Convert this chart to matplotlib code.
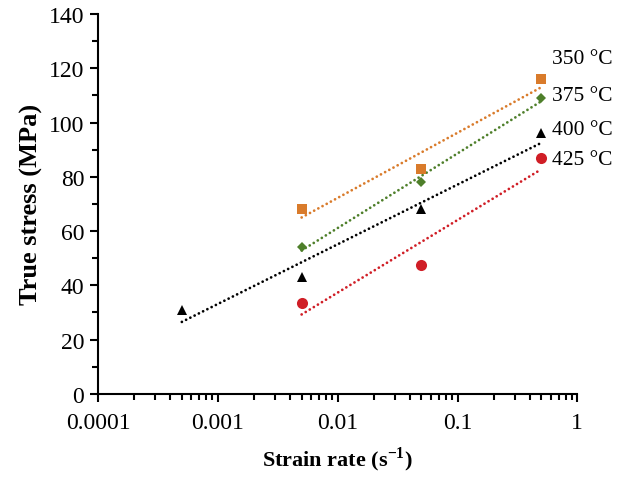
import numpy as np
import matplotlib.pyplot as plt
from matplotlib.ticker import LogLocator, MultipleLocator, FuncFormatter

plt.rcParams['font.family'] = ['Liberation Serif', 'DejaVu Serif']

# data
rate_350 = [0.005, 0.05, 0.5]
stress_350 = [68, 83, 116]
rate_375 = [0.005, 0.05, 0.5]
stress_375 = [54, 78, 109]
rate_400 = [0.0005, 0.005, 0.05, 0.5]
stress_400 = [31, 43, 68, 96]
rate_425 = [0.005, 0.05, 0.5]
stress_425 = [33.5, 47.5, 87]

labels = ['350 \u00b0C', '375 \u00b0C', '400 \u00b0C', '425 \u00b0C']
label_y = [123.5, 110, 97.5, 86.5]

series = [
    (rate_350, stress_350, 's', '#D97B2B', 7),
    (rate_375, stress_375, 'D', '#4E7F2A', 5.5),
    (rate_400, stress_400, '^', '#000000', 7.5),
    (rate_425, stress_425, 'o', '#D01E26', 8),
]

fig = plt.figure(figsize=(6.33, 4.85), dpi=100)
ax = fig.add_axes([0.155, 0.186, 0.757, 0.783])

for (x, y, m, c, ms), lab, ly in zip(series, labels, label_y):
    x = np.array(x)
    y = np.array(y)
    # logarithmic trend line, like the spreadsheet one
    a, b = np.polyfit(np.log(x), y, 1)
    xs = np.array([x.min(), x.max()])
    ax.plot(xs, a * np.log(xs) + b, linestyle=(0, (0.01, 1.7)), color=c,
            linewidth=2.0, dash_capstyle='round')
    ax.plot(x, y, linestyle='none', marker=m, color=c, markersize=ms,
            markeredgewidth=0, zorder=3)
    ax.text(0.62, ly, lab, fontsize=15.5, va='center', ha='left')

ax.set_xscale('log')
ax.set_xlim(0.0001, 1)
ax.set_ylim(0, 140)
ax.xaxis.set_major_locator(LogLocator(base=10, numticks=10))
ax.xaxis.set_minor_locator(LogLocator(base=10, subs=np.arange(2, 10), numticks=10))
ax.xaxis.set_major_formatter(FuncFormatter(lambda v, p: np.format_float_positional(v, trim='-')))
ax.yaxis.set_major_locator(MultipleLocator(20))
ax.yaxis.set_minor_locator(MultipleLocator(10))

for s in ['top', 'right']:
    ax.spines[s].set_visible(False)
for s in ['left', 'bottom']:
    ax.spines[s].set_linewidth(1.5)

ax.tick_params(which='major', direction='out', length=6, width=1.5, labelsize=17)
ax.tick_params(which='minor', direction='out', length=4, width=1.5)
ax.tick_params(axis='x', pad=7)
ax.tick_params(axis='y', pad=4)

ax.set_xlabel('Strain rate (s$^{\\mathregular{-1}}$)', fontsize=16, fontweight='bold', labelpad=8)
ax.set_ylabel('True stress (MPa)', fontsize=19, fontweight='bold', labelpad=4)

fig.savefig('out.png', dpi=100)
